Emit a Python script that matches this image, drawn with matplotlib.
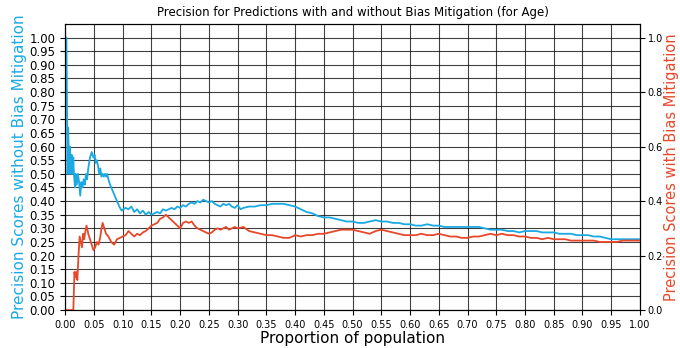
import matplotlib
matplotlib.use("Agg")
import matplotlib.pyplot as plt
import numpy as np

# proportion of population (x) and precision without mitigation
x_blue = [0.0, 0.002, 0.004, 0.005, 0.007, 0.008, 0.010, 0.011, 0.012, 0.014, 0.015,
          0.017, 0.018, 0.020, 0.022, 0.024, 0.026, 0.028, 0.030, 0.032, 0.034, 0.036,
          0.038, 0.040, 0.043, 0.046, 0.049, 0.051, 0.053, 0.055, 0.057, 0.059, 0.061,
          0.063, 0.065, 0.067, 0.069, 0.071, 0.073, 0.075, 0.078, 0.082, 0.086, 0.090,
          0.094, 0.098, 0.101, 0.105, 0.110, 0.115, 0.120, 0.125, 0.130, 0.135, 0.140,
          0.145, 0.150, 0.155, 0.160, 0.165, 0.170, 0.175, 0.180, 0.185, 0.190, 0.195,
          0.200, 0.205, 0.210, 0.215, 0.220, 0.225, 0.230, 0.235, 0.240, 0.245, 0.250,
          0.255, 0.260, 0.265, 0.270, 0.275, 0.280, 0.285, 0.290, 0.295, 0.300, 0.305,
          0.310, 0.320, 0.330, 0.340, 0.350, 0.360, 0.370, 0.380, 0.390, 0.400, 0.410,
          0.420, 0.430, 0.440, 0.450, 0.460, 0.470, 0.480, 0.490, 0.500, 0.510, 0.520,
          0.530, 0.540, 0.550, 0.560, 0.570, 0.580, 0.590, 0.600, 0.610, 0.620, 0.630,
          0.640, 0.650, 0.660, 0.670, 0.680, 0.690, 0.700, 0.710, 0.720, 0.730, 0.740,
          0.750, 0.760, 0.770, 0.780, 0.790, 0.800, 0.810, 0.820, 0.830, 0.840, 0.850,
          0.860, 0.870, 0.880, 0.890, 0.900, 0.910, 0.920, 0.930, 0.940, 0.950, 0.960,
          0.970, 0.980, 0.990, 1.000]
precision_without = [1.00, 1.00, 0.50, 0.67, 0.50, 0.60, 0.50, 0.57, 0.50, 0.56, 0.50,
                     0.45, 0.50, 0.46, 0.50, 0.47, 0.42, 0.47, 0.45, 0.48, 0.46, 0.50,
                     0.48, 0.52, 0.56, 0.58, 0.56, 0.57, 0.54, 0.55, 0.53, 0.50, 0.52,
                     0.49, 0.50, 0.49, 0.50, 0.49, 0.50, 0.48, 0.46, 0.44, 0.42, 0.40,
                     0.38, 0.365, 0.37, 0.375, 0.37, 0.38, 0.36, 0.37, 0.355, 0.365, 0.35,
                     0.36, 0.35, 0.355, 0.36, 0.355, 0.37, 0.365, 0.37, 0.375, 0.37, 0.38,
                     0.375, 0.385, 0.38, 0.39, 0.395, 0.39, 0.40, 0.395, 0.405, 0.40, 0.395,
                     0.40, 0.39, 0.385, 0.38, 0.39, 0.385, 0.39, 0.38, 0.375, 0.385, 0.37,
                     0.375, 0.38, 0.38, 0.385, 0.385, 0.39, 0.39, 0.39, 0.385, 0.38, 0.37,
                     0.36, 0.355, 0.345, 0.34, 0.34, 0.335, 0.33, 0.325, 0.325, 0.32, 0.32,
                     0.325, 0.33, 0.325, 0.325, 0.32, 0.32, 0.315, 0.315, 0.31, 0.31, 0.315,
                     0.31, 0.31, 0.305, 0.305, 0.305, 0.305, 0.305, 0.305, 0.305, 0.30, 0.295,
                     0.295, 0.295, 0.29, 0.29, 0.285, 0.29, 0.29, 0.29, 0.285, 0.285, 0.285,
                     0.28, 0.28, 0.28, 0.275, 0.275, 0.275, 0.27, 0.27, 0.265, 0.26, 0.26,
                     0.26, 0.26, 0.26, 0.26]

# precision with mitigation
x_red = [0.0, 0.005, 0.010, 0.014, 0.016, 0.017, 0.019, 0.021, 0.023, 0.025, 0.027,
         0.029, 0.031, 0.033, 0.035, 0.037, 0.040, 0.043, 0.046, 0.049, 0.052, 0.055,
         0.058, 0.061, 0.063, 0.065, 0.068, 0.071, 0.075, 0.080, 0.085, 0.090, 0.095,
         0.100, 0.105, 0.110, 0.115, 0.120, 0.125, 0.130, 0.135, 0.140, 0.145, 0.150,
         0.155, 0.160, 0.165, 0.170, 0.175, 0.180, 0.185, 0.190, 0.195, 0.200, 0.205,
         0.210, 0.215, 0.220, 0.225, 0.230, 0.240, 0.250, 0.255, 0.260, 0.265, 0.270,
         0.275, 0.280, 0.285, 0.290, 0.295, 0.300, 0.310, 0.320, 0.330, 0.340, 0.350,
         0.360, 0.370, 0.380, 0.390, 0.400, 0.410, 0.420, 0.430, 0.440, 0.450, 0.460,
         0.470, 0.480, 0.490, 0.500, 0.510, 0.520, 0.530, 0.540, 0.550, 0.560, 0.570,
         0.580, 0.590, 0.600, 0.610, 0.620, 0.630, 0.640, 0.650, 0.660, 0.670, 0.680,
         0.690, 0.700, 0.710, 0.720, 0.730, 0.740, 0.750, 0.760, 0.770, 0.780, 0.790,
         0.800, 0.810, 0.820, 0.830, 0.840, 0.850, 0.860, 0.870, 0.880, 0.890, 0.900,
         0.910, 0.920, 0.930, 0.940, 0.950, 0.960, 0.970, 0.980, 0.990, 1.000]
precision_with = [0.0, 0.0, 0.0, 0.0, 0.14, 0.12, 0.14, 0.11, 0.20, 0.27, 0.25,
                  0.23, 0.28, 0.26, 0.29, 0.31, 0.28, 0.26, 0.24, 0.22, 0.23, 0.25,
                  0.24, 0.27, 0.30, 0.32, 0.30, 0.28, 0.27, 0.25, 0.24, 0.26, 0.265,
                  0.27, 0.275, 0.29, 0.28, 0.27, 0.28, 0.275, 0.285, 0.29, 0.30, 0.31,
                  0.315, 0.32, 0.335, 0.34, 0.35, 0.34, 0.33, 0.32, 0.31, 0.30, 0.32,
                  0.325, 0.32, 0.325, 0.31, 0.30, 0.29, 0.28, 0.285, 0.295, 0.30, 0.295,
                  0.30, 0.305, 0.295, 0.30, 0.305, 0.30, 0.305, 0.29, 0.285, 0.28, 0.275,
                  0.275, 0.27, 0.265, 0.265, 0.275, 0.27, 0.275, 0.275, 0.28, 0.28, 0.285,
                  0.29, 0.295, 0.295, 0.295, 0.29, 0.285, 0.28, 0.29, 0.295, 0.29, 0.285,
                  0.28, 0.275, 0.275, 0.275, 0.28, 0.275, 0.275, 0.28, 0.275, 0.27, 0.27,
                  0.265, 0.265, 0.27, 0.27, 0.275, 0.28, 0.275, 0.28, 0.275, 0.275, 0.27,
                  0.27, 0.265, 0.265, 0.26, 0.265, 0.26, 0.26, 0.26, 0.255, 0.255, 0.255,
                  0.255, 0.255, 0.25, 0.25, 0.25, 0.25, 0.255, 0.255, 0.255, 0.255]

blue = '#1aa9e3'
red = '#e8482a'

fig = plt.figure(figsize=(6.8, 3.48), dpi=100)
ax = fig.add_axes([0.096, 0.109, 0.845, 0.822])
ax.plot(x_blue, precision_without, color=blue, linewidth=1.3)
ax.set_xlim(0, 1)
ax.set_ylim(0, 1.05)
ax.set_xticks(np.arange(0, 1.001, 0.05))
ax.set_yticks(np.arange(0, 1.001, 0.05))
ax.tick_params(axis='x', labelsize=7)
ax.tick_params(axis='y', labelsize=8.5)
ax.grid(True, color='black', linewidth=0.8, alpha=0.75)
ax.set_xlabel('Proportion of population', fontsize=11, labelpad=1)
ax.set_ylabel('Precision Scores without Bias Mitigation', fontsize=11, color=blue, labelpad=2)
ax.set_title('Precision for Predictions with and without Bias Mitigation (for Age)', fontsize=8.5)

ax2 = ax.twinx()
ax2.plot(x_red, precision_with, color=red, linewidth=1.3)
ax2.set_ylim(0, 1.05)
ax2.tick_params(axis='y', labelsize=7, pad=2)
ax2.set_ylabel('Precision Scores with Bias Mitigation', fontsize=10.5, color=red, labelpad=1)

fig.savefig('out.png', dpi=100)
